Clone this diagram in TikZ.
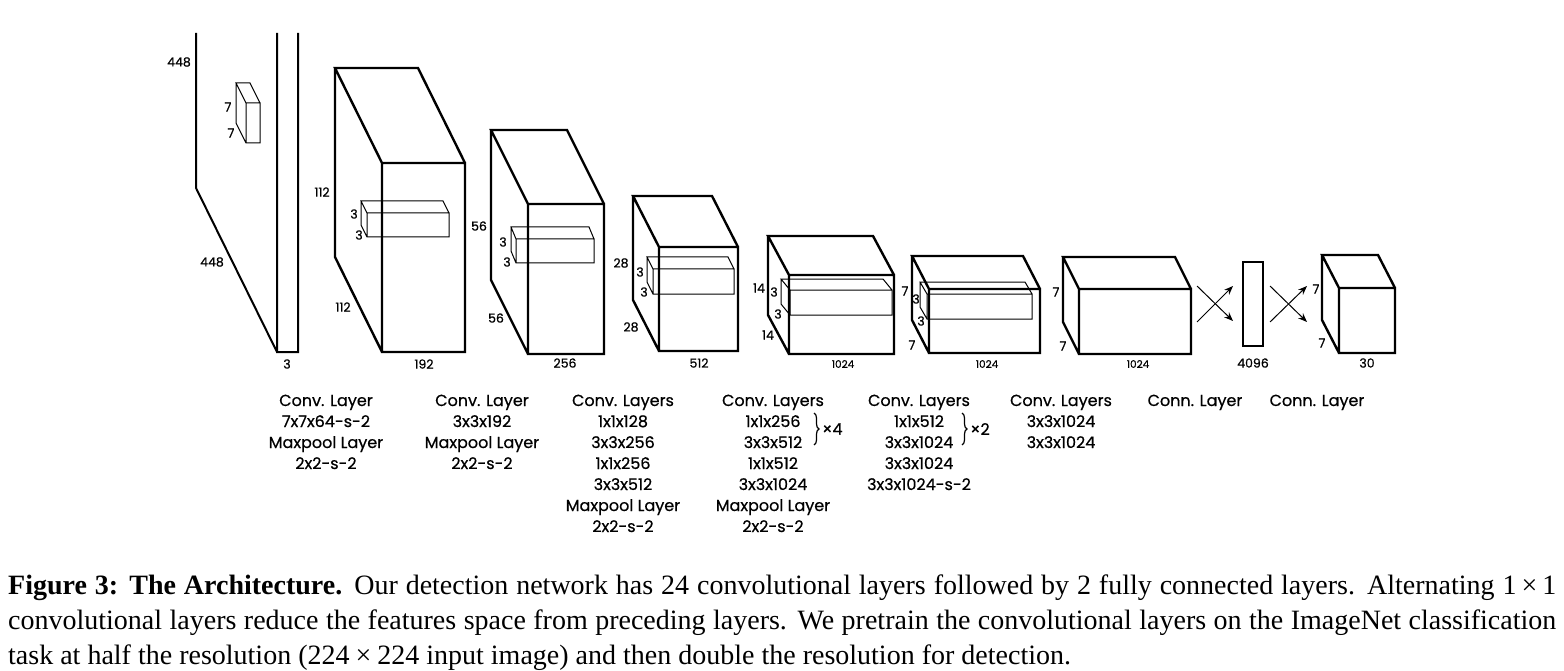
\documentclass[tikz,border=0pt]{standalone}
\usepackage{fontspec}
\setmainfont{Liberation Serif}
\newfontfamily\futfont{Poppins}[FakeBold=0.6]
\usetikzlibrary{arrows.meta,decorations.pathreplacing}

\tikzset{
  boxline/.style={line width=2.4pt,line join=miter},
  kernline/.style={line width=1pt},
  dimlbl/.style={font=\futfont\fontsize{12.5}{14}\selectfont,inner sep=0pt},
  smalllbl/.style={font=\futfont\fontsize{10.5}{12}\selectfont,inner sep=0pt},
  layerlbl/.style={font=\futfont\fontsize{16}{19}\selectfont,inner sep=0pt,anchor=base},
  fcarrow/.style={line width=1pt,-{Stealth[length=9pt,width=7pt]}},
  repbrace/.style={line width=1.2pt,decorate,decoration={brace,amplitude=5pt}},
  captxt/.style={font=\fontsize{28}{35}\selectfont,inner sep=0pt,anchor=base west}
}

\begin{document}
\begin{tikzpicture}[x=1pt,y=-1pt]
\useasboundingbox (0,0) rectangle (1564,671);

% input image, cut at the top
\draw[line width=2pt] (277,33) -- (277,352) -- (298,352) -- (298,33)
  (196,33) -- (196,188) -- (277,352);

% feature volumes: front face xa/ya/xb/yb, depth dx/dy
\foreach \xa/\ya/\xb/\yb/\dx/\dy [count=\i] in {
    382/163/465/352/47/95, 528/204/604/354/37/74, 659/247/738/351/26/51,
    789/275/894/354/21/39, 929/289/1040/353/17/33, 1079/289/1191/354/16/32,
    1339/288/1395/353/17/33}{
  \draw[boxline] (\xa,\ya) rectangle (\xb,\yb)
    (\xa,\ya) -- ++(-\dx,-\dy) coordinate (v\i) -- ++(\xb-\xa,0) -- (\xb,\ya)
    (v\i) -- ++(0,\yb-\ya) -- (\xa,\yb);
}

% filters
\foreach \xa/\ya/\xb/\yb/\dx/\dy [count=\i] in {
    246/103/260/143/10/20, 367/213/449/237/6/12, 516/239/594/263/5/12,
    653/269/734/294/6/12, 790/290/892/315/9/11, 927/294/1032/319/7/12}{
  \draw[kernline] (\xa,\ya) rectangle (\xb,\yb)
    (\xa,\ya) -- ++(-\dx,-\dy) coordinate (k\i) -- ++(\xb-\xa,0) -- (\xb,\ya)
    (k\i) -- ++(0,\yb-\ya) -- (\xa,\yb);
}

% sizes
\foreach \x/\y/\t [count=\i] in {
    179/62/448, 212/262/448, 228/107/7, 231/133/7, 287/364/3,
    322/192/112, 343/307/112, 354/214/3, 359/235/3, 424/364/192,
    479/226/56, 496/318/56, 503/242/3, 507/262/3, 565/363/256,
    621/263/28, 631/327/28, 640/272/3, 644/292/3, 699/363/512,
    759/288/14, 768/335/14, 774/292/3, 778/314/3,
    905/291/7, 912/345/7, 916/299/3, 921/321/3,
    1056/292/7, 1063/346/7, 1253/363/4096,
    1316/289/7, 1322/343/7, 1367/363/30}
  \node[dimlbl] (d\i) at (\x,\y) {\t};
\foreach \x [count=\i] in {843,987,1138}
  \node[smalllbl] (w\i) at (\x,364) {1024};

% fully connected part
\node[draw,line width=2pt,minimum width=20pt,minimum height=83pt,inner sep=0pt] (fc) at (1253,304) {};
\coordinate (p1) at (1197,286); \coordinate (p2) at (1233,321);
\coordinate (p3) at (1197,322); \coordinate (p4) at (1233,286);
\coordinate (q1) at (1270,286); \coordinate (q2) at (1307,322);
\coordinate (q3) at (1270,322); \coordinate (q4) at (1307,286);
\draw[fcarrow] (p1) -- (p2);
\draw[fcarrow] (p3) -- (p4);
\draw[fcarrow] (q1) -- (q2);
\draw[fcarrow] (q3) -- (q4);

% layer descriptions
\foreach \cx/\rows [count=\j] in {
    326/{Conv. Layer,7x7x64-s-2,Maxpool Layer,2x2-s-2},
    482/{Conv. Layer,3x3x192,Maxpool Layer,2x2-s-2},
    623/{Conv. Layers,1x1x128,3x3x256,1x1x256,3x3x512,Maxpool Layer,2x2-s-2},
    773/{Conv. Layers,1x1x256,3x3x512,1x1x512,3x3x1024,Maxpool Layer,2x2-s-2},
    919/{Conv. Layers,1x1x512,3x3x1024,3x3x1024,3x3x1024-s-2},
    1061/{Conv. Layers,3x3x1024,3x3x1024},
    1195/{Conn. Layer},
    1317/{Conn. Layer}}{
  \foreach \t [count=\r from 0] in \rows
    \node[layerlbl] (l\j-\r) at (\cx,406+21*\r) {\t};
}
\draw[repbrace] (814,413) -- (814,445);
\node[layerlbl,anchor=west] (rep4) at (822,429) {×4};
\draw[repbrace] (962,413) -- (962,445);
\node[layerlbl,anchor=west] (rep2) at (970,429) {×2};

% caption
\node[captxt] (cap1) at (8,594) {\makebox[1548pt][s]{\textbf{Figure 3: The Architecture.} Our detection network has 24 convolutional layers followed by 2 fully connected layers. Alternating 1\kern5pt×\kern5pt1}};
\node[captxt] (cap2) at (8,629) {\makebox[1548pt][s]{convolutional layers reduce the features space from preceding layers. We pretrain the convolutional layers on the ImageNet classification}};
\node[captxt] (cap3) at (8,664) {task at half the resolution (224\kern6pt×\kern6pt224 input image) and then double the resolution for detection.};
\end{tikzpicture}
\end{document}
